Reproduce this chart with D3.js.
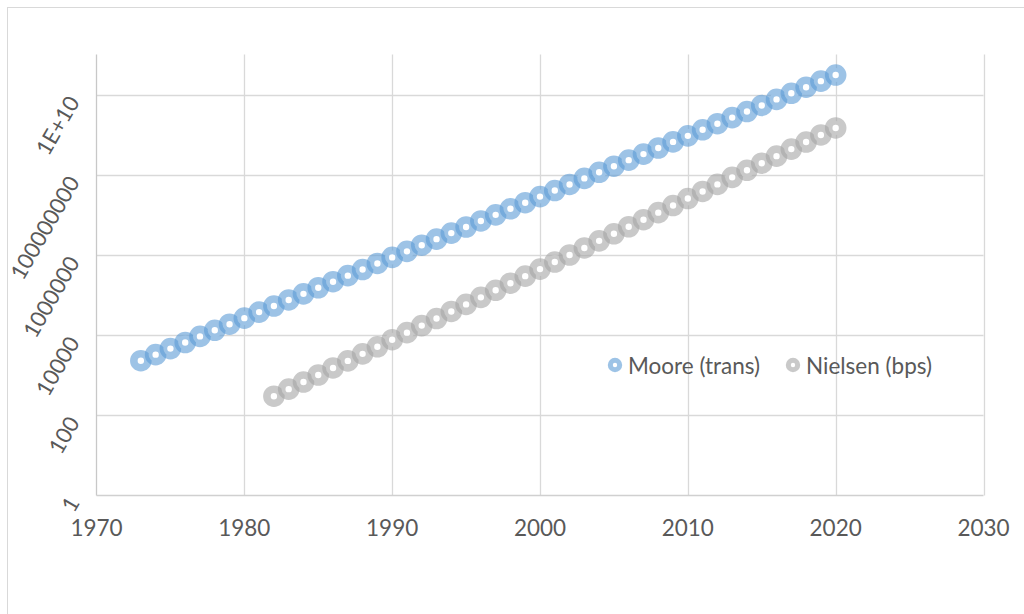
<!DOCTYPE html>
<html>
<head>
<meta charset="utf-8">
<script src="https://cdn.jsdelivr.net/npm/d3@7"></script>
<style>
  html, body { margin: 0; padding: 0; background: #fff; }
  svg { display: block; font-family: Lato, "Open Sans", sans-serif; }
</style>
</head>
<body>
<svg id="chart" width="1024" height="614"></svg>
<script>
// Moore's law: transistors per chip, 1973–2020
const mooreYears = d3.range(1973, 2021);
const mooreValues = [
  2300, 3260, 4620, 6550, 9290, 13200, 18700, 26500, 37500, 53200,
  75500, 107000, 152000, 215000, 305000, 432000, 613000, 869000, 1230000, 1750000,
  2480000, 3510000, 4980000, 7060000, 10000000, 14180000, 20110000, 28510000, 40420000, 57310000,
  81240000, 115200000, 163300000, 231500000, 328200000, 465400000, 659800000, 935200000, 1326000000, 1880000000,
  2666000000, 3779000000, 5357000000, 7596000000, 10770000000, 15270000000, 21650000000, 30690000000
];

// Nielsen's law: connection speed in bits per second, 1982–2020
const nielsenYears = d3.range(1982, 2021);
const nielsenValues = [
  300, 450, 675, 1013, 1519, 2278, 3417, 5126, 7689, 11530,
  17300, 25950, 38920, 58390, 87580, 131400, 197100, 295600, 443400, 665000,
  997600, 1496000, 2245000, 3367000, 5050000, 7575000, 11360000, 17050000, 25570000, 38350000,
  57530000, 86290000, 129400000, 194200000, 291200000, 436800000, 655300000, 982900000, 1474000000
];

const xTicks = [1970, 1980, 1990, 2000, 2010, 2020, 2030];
const yTicks = [1, 100, 10000, 1000000, 100000000, 1e10];
const yTickLabels = ["1", "100", "10000", "1000000", "100000000", "1E+10"];

const seriesNames = ["Moore (trans)", "Nielsen (bps)"];
const seriesColors = ["#5B9BD5", "#A5A5A5"];

const svg = d3.select("#chart");

// outer chart frame (runs off the right and bottom edges)
svg.append("rect")
  .attr("x", 7.5).attr("y", 7.5)
  .attr("width", 1030).attr("height", 620)
  .attr("fill", "none").attr("stroke", "#d9d9d9").attr("stroke-width", 1);

const x = d3.scaleLinear().domain([1970, 2030]).range([96.5, 983.5]);
const y = d3.scaleLog().domain([1, 1e11]).range([495.5, 54.5]);

const grid = svg.append("g").attr("stroke", "#d9d9d9").attr("stroke-width", 1.3);
grid.selectAll("line.h").data(yTicks.slice(1)).join("line")
  .attr("class", "h")
  .attr("x1", x(1970)).attr("x2", x(2030))
  .attr("y1", d => Math.round(y(d)) + 0.5).attr("y2", d => Math.round(y(d)) + 0.5);
grid.selectAll("line.v").data(xTicks.slice(1)).join("line")
  .attr("class", "v")
  .attr("x1", d => Math.round(x(d)) + 0.5).attr("x2", d => Math.round(x(d)) + 0.5)
  .attr("y1", y(1e11)).attr("y2", y(1));

// axis lines
svg.append("line").attr("x1", x(1970)).attr("x2", x(1970)).attr("y1", y(1e11)).attr("y2", y(1))
  .attr("stroke", "#c8c8c8").attr("stroke-width", 1.3);
svg.append("line").attr("x1", x(1970)).attr("x2", x(2030)).attr("y1", y(1)).attr("y2", y(1))
  .attr("stroke", "#d0d0d0").attr("stroke-width", 1.3);

// x tick labels
svg.append("g").selectAll("text").data(xTicks).join("text")
  .attr("x", d => x(d)).attr("y", 527)
  .attr("text-anchor", "middle").attr("dominant-baseline", "central")
  .attr("font-size", 22.5).attr("fill", "#595959")
  .text(d => d);

// y tick labels, slanted
svg.append("g").selectAll("text").data(yTicks).join("text")
  .attr("transform", d => `translate(73,${y(d) + 3}) rotate(-60)`)
  .attr("text-anchor", "end").attr("dominant-baseline", "central")
  .attr("font-size", 22).attr("fill", "#595959")
  .text((d, i) => yTickLabels[i]);

// ring markers
function drawSeries(years, values, color) {
  svg.append("g").selectAll("circle").data(years).join("circle")
    .attr("cx", d => x(d))
    .attr("cy", (d, i) => y(values[i]))
    .attr("r", 7)
    .attr("fill", "#fff")
    .attr("stroke", color)
    .attr("stroke-opacity", 0.6)
    .attr("stroke-width", 7.6);
}
drawSeries(mooreYears, mooreValues, seriesColors[0]);
drawSeries(nielsenYears, nielsenValues, seriesColors[1]);

// legend
const legendX = [615, 793];
const legend = svg.append("g").selectAll("g").data(seriesNames).join("g")
  .attr("transform", (d, i) => `translate(${legendX[i]},365)`);
legend.append("circle").attr("r", 4.7).attr("fill", "#fff")
  .attr("stroke", (d, i) => seriesColors[i]).attr("stroke-opacity", 0.6).attr("stroke-width", 5);
legend.append("text").attr("x", 13).attr("dominant-baseline", "central")
  .attr("font-size", 22.5).attr("fill", "#595959").text(d => d);
</script>
</body>
</html>
